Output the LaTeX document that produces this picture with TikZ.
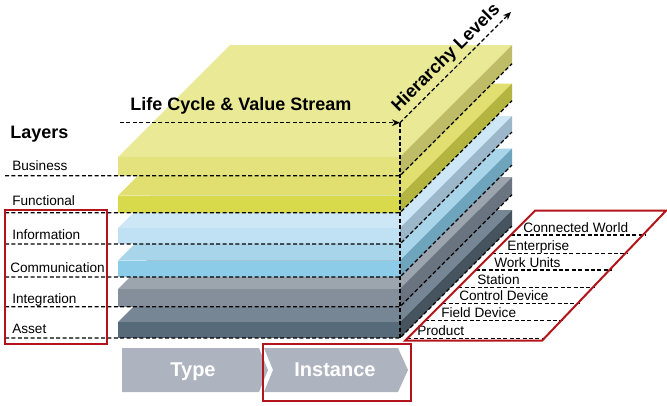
\documentclass[tikz,border=0pt]{standalone}
\usepackage{fontspec}
\setmainfont{Liberation Sans}
\usepackage{tikz}
\usetikzlibrary{arrows.meta}

\definecolor{rojo}{HTML}{B3141C}
\definecolor{fasegris}{HTML}{AEB4BF}
\definecolor{busT}{HTML}{E9E996}
\definecolor{busF}{HTML}{E3E27C}
\definecolor{busS}{HTML}{BEBC66}
\definecolor{funcT}{HTML}{E0DF6F}
\definecolor{funcF}{HTML}{D9D94C}
\definecolor{funcS}{HTML}{B3B540}
\definecolor{infoT}{HTML}{CDE7F6}
\definecolor{infoF}{HTML}{BFE1F3}
\definecolor{infoS}{HTML}{9CB7C9}
\definecolor{commT}{HTML}{A9D5EB}
\definecolor{commF}{HTML}{8DCCE9}
\definecolor{commS}{HTML}{6FA4BD}
\definecolor{integT}{HTML}{9CA4AE}
\definecolor{integF}{HTML}{858F9B}
\definecolor{integS}{HTML}{6A7380}
\definecolor{assetT}{HTML}{768694}
\definecolor{assetF}{HTML}{576A7A}
\definecolor{assetS}{HTML}{45545F}

\tikzset{
  guia/.style={dash pattern=on 3pt off 1.8pt, line width=0.9pt},
  marco/.style={draw=rojo, line width=1.5pt},
  etiqueta/.style={font=\fontsize{10.2}{12}\selectfont, anchor=base west, inner sep=0pt},
  titulo/.style={font=\bfseries\fontsize{13.5}{16}\selectfont, inner sep=0pt},
  fase/.style={fill=fasegris},
  fasetexto/.style={font=\bfseries\fontsize{15}{18}\selectfont, text=white, anchor=base, inner sep=0pt},
}

\begin{document}
\begin{tikzpicture}[x=0.75pt,y=-0.75pt]
    \useasboundingbox (0,0) rectangle (667,405);

    % Capas (de abajo hacia arriba)
    \foreach \ya/\yb/\ct/\cf/\cs in {322/338/assetT/assetF/assetS,
        289/306.7/integT/integF/integS, 260.5/277/commT/commF/commS,
        228/244/infoT/infoF/infoS, 195.5/212.7/funcT/funcF/funcS,
        157/175.7/busT/busF/busS}{
        \fill[fill=\ct] (118,\ya) -- (400,\ya) -- (512,\ya-112) -- (230,\ya-112) -- cycle;
        \fill[fill=\cf] (118,\ya) rectangle (400,\yb);
        \fill[fill=\cs] (400,\ya) -- (512,\ya-112) -- (512,\yb-112) -- (400,\yb) -- cycle;
    }

    % Ejes
    \coordinate (origen) at (400,122.7);
    \coordinate (vida) at (120,122.7);
    \coordinate (jerarquia) at (511,12);
    \coordinate (base) at (400,338);
    \draw[guia,-{Stealth[length=6pt,width=5pt]}] (vida) -- (origen);
    \draw[guia,-{Stealth[length=6pt,width=5pt]}] (origen) -- (jerarquia)
        node[midway, above=3pt, sloped, titulo] (hl) {Hierarchy Levels};
    \draw[guia] (origen) -- (base);
    \node[titulo, anchor=base west] (lcvs) at (130,110) {Life Cycle \& Value Stream};

    % Limites de capas
    \foreach \y in {175.7,212.7,244,277,306.7,338}
        \draw[guia] (5,\y) -- (400,\y) -- (512,\y-112);

    % Nombres de capas
    \node[titulo, anchor=base west] (capas) at (10,138) {Layers};
    \node[etiqueta] (business) at (12,170) {Business};
    \node[etiqueta] (functional) at (12,205) {Functional};
    \node[etiqueta] (information) at (12,239) {Information};
    \node[etiqueta] (communication) at (10,272) {Communication};
    \node[etiqueta] (integration) at (12,303.5) {Integration};
    \node[etiqueta] (asset) at (12,333.5) {Asset};

    % Niveles de jerarquia
    \foreach \y/\xl/\xr/\xt/\nom [count=\i] in {235/510.7/646/523/Connected World,
        253.3/492.4/628/507/Enterprise, 270/475.7/612/494/Work Units,
        287.3/458.4/595/477/Station, 303.3/442.4/580/459/Control Device,
        320.7/425/563/441/Field Device, 338.3/407.4/545/417/Product}{
        \draw[guia] (\xl,\y) -- (\xr,\y);
        \node[etiqueta] (nivel\i) at (\xt,\y-3) {\nom};
    }

    % Tipo e instancia
    \fill[fase] (122,348) -- (259,348) -- (268,370) -- (259,392) -- (122,392) -- cycle;
    \fill[fase] (264,348) -- (398,348) -- (408,370) -- (398,392) -- (264,392) -- (273,370) -- cycle;
    \node[fasetexto] (tipo) at (193,376.7) {Type};
    \node[fasetexto] (instancia) at (335,376.7) {Instance};

    % Marcos rojos
    \draw[marco] (5,210) rectangle (106.7,344);
    \draw[marco] (263,344) rectangle (410.5,401);
    \draw[marco] (405,340.7) -- (535,210.7) -- (666,210.7) -- (542,340.7) -- cycle;
\end{tikzpicture}
\end{document}
